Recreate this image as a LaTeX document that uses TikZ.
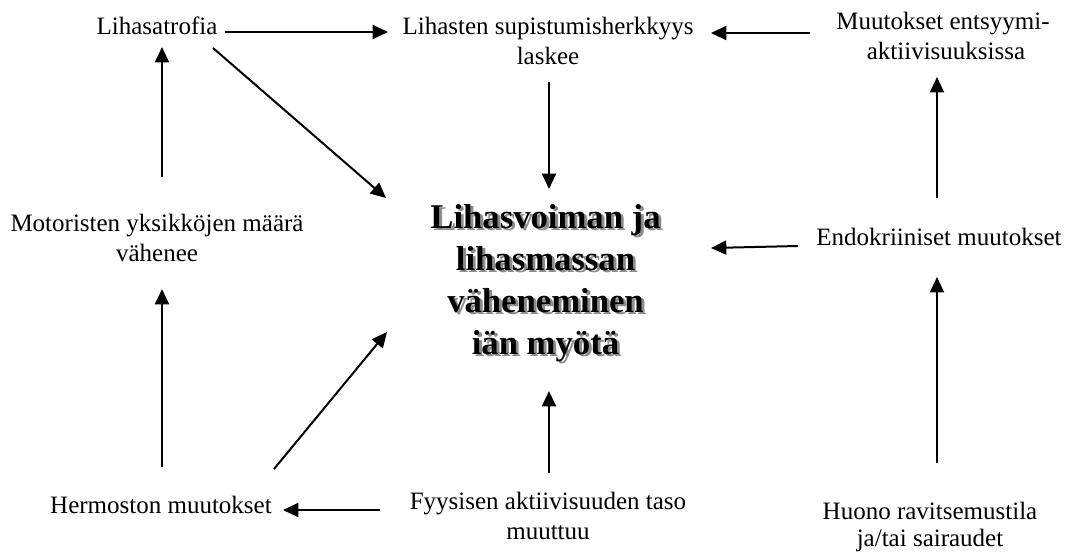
\documentclass[tikz,border=0pt]{standalone}
\usepackage{fontspec}
\setmainfont{Liberation Serif}
\usetikzlibrary{arrows.meta}
\newcommand{\shadowed}[1]{\makebox[0pt][l]{\hspace{2.2pt}\raisebox{-2.2pt}{\textcolor{black!45}{#1}}}#1}
\begin{document}
\begin{tikzpicture}[x=0.75pt,y=-0.75pt,
  txt/.style={inner sep=0pt, anchor=base, font=\fontsize{18.75}{22.5}\selectfont},
  big/.style={inner sep=0pt, anchor=base, font=\fontsize{26}{31.5}\selectfont\bfseries},
  arr/.style={line width=1.5pt, -{Triangle[length=11.5pt,width=10.5pt]}}]
\useasboundingbox (0,0) rectangle (1068,551);
% text nodes
\node[txt] (atrofia) at (157,34) {Lihasatrofia};
\node[txt] (supist1) at (548,34) {Lihasten supistumisherkkyys};
\node[txt] (supist2) at (548,64) {laskee};
\node[txt] (entsyy1) at (943,29) {Muutokset entsyymi-};
\node[txt] (entsyy2) at (946,59) {aktiivisuuksissa};
\node[txt] (motor1) at (157,231) {Motoristen yksikköjen määrä};
\node[txt] (motor2) at (157,261) {vähenee};
\node[txt] (endokr) at (939,245) {Endokriiniset muutokset};
\node[txt] (hermo) at (161,513) {Hermoston muutokset};
\node[txt] (fyys1) at (548,509) {Fyysisen aktiivisuuden taso};
\node[txt] (fyys2) at (548,539) {muuttuu};
\node[txt] (huono1) at (930,519) {Huono ravitsemustila};
\node[txt] (huono2) at (930,546) {ja/tai sairaudet};
% central text with shadow
\node[big] (central1) at (545.5,228) {\shadowed{Lihasvoiman ja}};
\node[big] (central2) at (545.5,270) {\shadowed{lihasmassan}};
\node[big] (central3) at (545.5,312) {\shadowed{väheneminen}};
\node[big] (central4) at (545.5,354) {\shadowed{iän myötä}};
% arrow end points
\coordinate (a1s) at (225,32);   \coordinate (a1e) at (388,32);
\coordinate (a2s) at (810,33);   \coordinate (a2e) at (711,33);
\coordinate (a3s) at (213,48);   \coordinate (a3e) at (386,198);
\coordinate (a4s) at (549,82);   \coordinate (a4e) at (549,189);
\coordinate (a5s) at (162,177);  \coordinate (a5e) at (162,47);
\coordinate (a6s) at (937,198);  \coordinate (a6e) at (937,77);
\coordinate (a7s) at (798,246);  \coordinate (a7e) at (711,248);
\coordinate (a8s) at (937,463);  \coordinate (a8e) at (937,277);
\coordinate (a9s) at (162,467);  \coordinate (a9e) at (162,289);
\coordinate (a10s) at (274,469); \coordinate (a10e) at (387,332);
\coordinate (a11s) at (549,473); \coordinate (a11e) at (549,391);
\coordinate (a12s) at (380,510); \coordinate (a12e) at (283,510);
\foreach \i in {1,...,12}{\draw[arr] (a\i s) -- (a\i e);}
\end{tikzpicture}
\end{document}
